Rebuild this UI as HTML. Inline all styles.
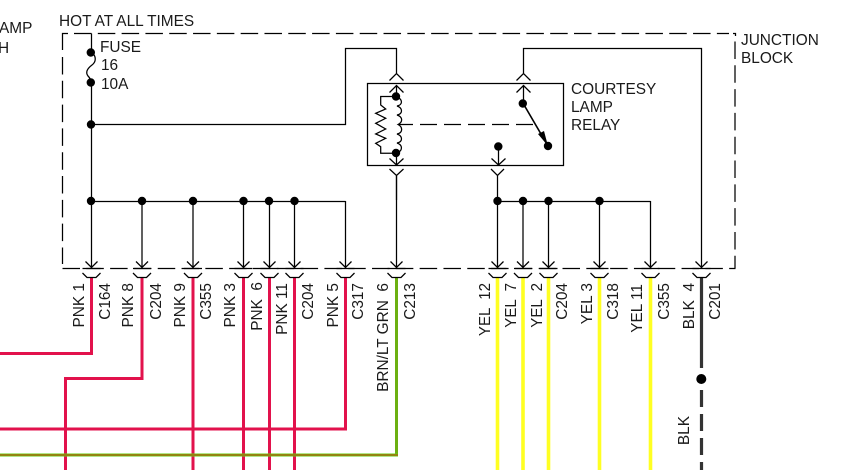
<!DOCTYPE html>
<html>
<head>
<meta charset="utf-8">
<style>
html,body{margin:0;padding:0;background:#fff;width:866px;height:470px;overflow:hidden}
svg{display:block}
text{font-family:"Liberation Sans",Arial,sans-serif;font-size:15.4px;fill:#1a1a1a;white-space:pre}
.l{stroke:#000;stroke-width:1.25;fill:none}
.d{stroke:#000;stroke-width:1.25;fill:none;stroke-dasharray:17.5 6.31}
.p{stroke:#e2124c;stroke-width:3;fill:none}
.y{stroke:#ffff22;stroke-width:3.6;fill:none}
.k{stroke:#333;stroke-width:3.2;fill:none}
</style>
</head>
<body>
<svg width="866" height="470" viewBox="0 0 866 470" xmlns="http://www.w3.org/2000/svg">
<defs>
<g id="c">
<path class="l" d="M0 201V268M-6 261.500L0 267.500L6 261.500M-9 268.500H9M-9 273L-4.500 277.500H4.500L9 273"/>
</g>
</defs>

<!-- junction block dashed outline -->
<path class="l" d="M62.500 50V33.500H68"/>
<path class="d" d="M74 33.500H729"/>
<path class="l" d="M733 33.500H735.500V36"/>
<path class="d" d="M62.500 57V264"/>
<path class="d" d="M62.500 268.500H735.500"/>
<path class="d" d="M735 41.500V268.500"/>

<!-- coloured wires -->
<path class="p" d="M91.500 277V353.500H0"/>
<path class="p" d="M142 277V378.500H65.500V470"/>
<path class="p" d="M193 277V470"/>
<path class="p" d="M243.500 277V470"/>
<path class="p" d="M269.500 277V470"/>
<path class="p" d="M294.500 277V470"/>
<path class="p" d="M345.500 277V429H0"/>
<path d="M396.500 277V455" stroke="#6cb012" stroke-width="3" fill="none"/>
<path d="M398 455H0" stroke="#66cc11" stroke-width="3" fill="none"/>
<path d="M398 455H0" stroke="#9a7a10" stroke-width="1.700" fill="none"/>
<path class="y" d="M497.500 277V470"/>
<path class="y" d="M523 277V470"/>
<path class="y" d="M548.500 277V470"/>
<path class="y" d="M599.500 277V470"/>
<path class="y" d="M650.500 277V470"/>
<path class="k" d="M701.500 277V368"/>
<path class="k" d="M701.500 390V470" stroke-dasharray="17 7"/>
<circle cx="701.300" cy="379" r="5" fill="#000"/>

<!-- main feed and fuse -->
<path class="l" d="M91.500 33.500V52"/>
<path class="l" d="M91 52C97 56 96 62 92 65C88 68 85 72 88 76C90 78 91 80 91 82"/>
<path class="l" d="M91.500 82V201"/>
<circle cx="90.800" cy="52.500" r="4.200" fill="#000"/>
<circle cx="90.800" cy="82.500" r="4.200" fill="#000"/>
<circle cx="91" cy="124.500" r="4.200" fill="#000"/>

<path class="l" d="M91 124.500H345.500V48.500H396.500V73"/>
<path class="l" d="M389.500 80.500L396.500 73.500L403.500 80.500"/>
<path class="l" d="M523.500 73V48.500H701.500V201"/>
<path class="l" d="M516.500 80.500L523.500 73.500L530.500 80.500"/>

<!-- buses -->
<path class="l" d="M91 201.500H345.500"/>
<path class="l" d="M497.500 201.500H650.500"/>
<g fill="#000">
<circle cx="91" cy="201" r="4.200"/><circle cx="142" cy="201" r="4.200"/><circle cx="193" cy="201" r="4.200"/>
<circle cx="243.500" cy="201" r="4.200"/><circle cx="269" cy="201" r="4.200"/><circle cx="294.500" cy="201" r="4.200"/>
<circle cx="497.500" cy="201" r="4.200"/><circle cx="523" cy="201" r="4.200"/><circle cx="548.500" cy="201" r="4.200"/><circle cx="599.500" cy="201" r="4.200"/>
</g>

<!-- connectors -->
<use href="#c" x="91.500"/><use href="#c" x="142"/><use href="#c" x="193"/><use href="#c" x="243.500"/>
<use href="#c" x="269.500"/><use href="#c" x="294.500"/><use href="#c" x="345.500"/>
<use href="#c" x="497.500"/><use href="#c" x="523"/><use href="#c" x="548.500"/><use href="#c" x="599.500"/><use href="#c" x="650.500"/><use href="#c" x="701.500"/>
<path class="l" d="M396.500 176V267.500M390.500 261.500L396.500 267.500L402.500 261.500M387.500 268.500H405.500M387.500 273L392 277.500H401L405.500 273"/>

<!-- relay box -->
<rect x="367.500" y="83.500" width="196" height="82" fill="none" stroke="#000" stroke-width="1.25"/>

<!-- relay left terminals -->
<path class="l" d="M396.500 85V97M389.500 92.500L396.500 85.500L403.500 92.500"/>
<circle cx="396" cy="96.500" r="4.200" fill="#000"/>
<circle cx="396" cy="153" r="4.200" fill="#000"/>
<path class="l" d="M396.500 153V165M389.500 158.500L396.500 165L403.500 158.500"/>
<path class="l" d="M389.500 169L396.500 175.500L403.500 169M396.500 175V200"/>
<!-- coil -->
<path class="l" d="M396.500 97C403 99 403 105 397 106C403 108 403 114 397 115C403 117 403 122 398 124.500C403 127 403 133 397 134C403 136 403 142 397 143C403 145 403 151 396.500 153"/>
<!-- resistor -->
<path class="l" d="M396 96.500H380.700V105L385.700 109L375.700 113.300L385.700 118.300L375.700 123.300L385.700 129L375.700 134L385.700 138.300L375.700 143.300L380.700 146.700V153.300H396"/>
<!-- armature dashed link -->
<path class="l" d="M398 124.500H413M420 124.500H437M444 124.500H461M468 124.500H485M492 124.500H509M516 124.500H533"/>

<!-- right switch -->
<path class="l" d="M523.500 85V103M516.500 92.500L523.500 85.500L530.500 92.500"/>
<circle cx="522.800" cy="103.500" r="4.200" fill="#000"/>
<path d="M523.500 104L548 146" stroke="#000" stroke-width="1.600" fill="none"/>
<path d="M538 134L544 131L548 146Z" fill="#000"/>
<circle cx="548" cy="146" r="4.200" fill="#000"/>

<!-- NO terminal -->
<circle cx="498.300" cy="146.500" r="4.200" fill="#000"/>
<path class="l" d="M498.500 147V165M491.500 158.500L498.500 165L505.500 158.500"/>
<path class="l" d="M491 169L497.500 175.500L504 169M497.500 175V200"/>

<!-- labels -->
<text x="59" y="26">HOT AT ALL TIMES</text>
<text x="100" y="52">FUSE</text>
<text x="101" y="70">16</text>
<text x="101" y="89">10A</text>
<text x="571" y="94">COURTESY</text>
<text x="571" y="112">LAMP</text>
<text x="571" y="130">RELAY</text>
<text x="741" y="45">JUNCTION</text>
<text x="741" y="63">BLOCK</text>
<text x="-1" y="33">AMP</text>
<text x="-2" y="53">H</text>

<g text-anchor="end">
<text transform="translate(84 283) rotate(-90)">PNK 1</text>
<text transform="translate(110 283) rotate(-90)">C164</text>
<text transform="translate(133 283) rotate(-90)">PNK 8</text>
<text transform="translate(161 283) rotate(-90)">C204</text>
<text transform="translate(185 283) rotate(-90)">PNK 9</text>
<text transform="translate(211 283) rotate(-90)">C355</text>
<text transform="translate(235 283) rotate(-90)">PNK 3</text>
<text transform="translate(262 282) rotate(-90)">PNK  6</text>
<text transform="translate(287 283) rotate(-90)">PNK 11</text>
<text transform="translate(313 283) rotate(-90)">C204</text>
<text transform="translate(338 283) rotate(-90)">PNK 5</text>
<text transform="translate(363 283) rotate(-90)">C317</text>
<text transform="translate(388 283) rotate(-90)">BRN/LT GRN  6</text>
<text transform="translate(415 283) rotate(-90)">C213</text>
<text transform="translate(490 283) rotate(-90) scale(.98 1)">YEL  12</text>
<text transform="translate(516 283) rotate(-90) scale(.98 1)">YEL  7</text>
<text transform="translate(542 283) rotate(-90) scale(.98 1)">YEL  2</text>
<text transform="translate(567 283) rotate(-90)">C204</text>
<text transform="translate(592 283) rotate(-90)">YEL 3</text>
<text transform="translate(618 283) rotate(-90)">C318</text>
<text transform="translate(642 284) rotate(-90)">YEL 11</text>
<text transform="translate(669 283) rotate(-90)">C355</text>
<text transform="translate(694 283) rotate(-90)">BLK  4</text>
<text transform="translate(720 283) rotate(-90)">C201</text>
<text transform="translate(689 416) rotate(-90)">BLK</text>
</g>
</svg>
</body>
</html>
